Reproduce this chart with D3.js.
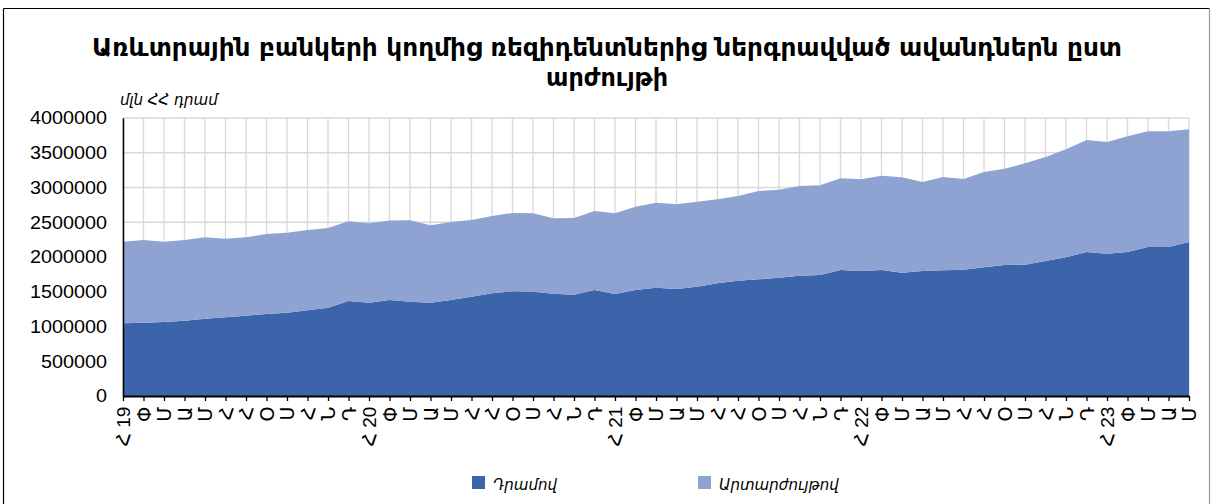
<!DOCTYPE html>
<html lang="hy">
<head>
  <meta charset="UTF-8" />
  <title>Ավանդներն ըստ արժույթի</title>
  <script src="https://d3js.org/d3.v7.min.js"></script>
  <style>
    body {
      margin: 0;
      background: white;
      font-family: "Liberation Sans", "DejaVu Sans", sans-serif;
    }
    svg {
      display: block;
    }
    .grid line {
      stroke: #d9d9d9;
      stroke-width: 1.3px;
    }
    .title {
      font-family: "DejaVu Sans Condensed", "DejaVu Sans", sans-serif;
      font-weight: bold;
      font-size: 25px;
      fill: #000;
    }
    .ylab {
      font-family: "Liberation Sans", "DejaVu Sans", sans-serif;
      font-size: 18px;
      fill: #000;
    }
    .xlab {
      font-family: "Liberation Sans", "DejaVu Sans", sans-serif;
      font-size: 19px;
      fill: #000;
    }
    .unit, .legend text {
      font-family: "DejaVu Sans", sans-serif;
      font-style: italic;
      font-size: 15px;
      fill: #000;
    }
  </style>
</head>
<body>
  <svg width="1211" height="504"></svg>

  <script>
    // month abbreviations (Armenian), year marks on January
    const monthAbbr = ["Հ", "Փ", "Մ", "Ա", "Մ", "Հ", "Հ", "Օ", "Ս", "Հ", "Ն", "Դ"];
    const years = ["19", "20", "21", "22", "23"];
    const yTicks = [0, 500000, 1000000, 1500000, 2000000, 2500000, 3000000, 3500000, 4000000];

    // deposits in drams, mln AMD (Jan 2019 - May 2023)
    const dramValues = [
      1046000, 1055000, 1065000, 1084000, 1113000, 1132000, 1156000, 1180000, 1199000, 1233000, 1271000, 1367000,
      1343000, 1381000, 1357000, 1343000, 1381000, 1429000, 1477000, 1506000, 1501000, 1472000, 1458000, 1525000,
      1468000, 1525000, 1559000, 1540000, 1573000, 1621000, 1659000, 1679000, 1702000, 1731000, 1741000, 1813000,
      1799000, 1813000, 1774000, 1798000, 1808000, 1818000, 1851000, 1885000, 1890000, 1942000, 1995000, 2072000,
      2048000, 2072000, 2144000, 2144000, 2216000
    ];

    // deposits in foreign currency, mln AMD
    const fxValues = [
      1174000, 1189000, 1155000, 1160000, 1170000, 1131000, 1127000, 1151000, 1151000, 1155000, 1146000, 1146000,
      1141000, 1144000, 1171000, 1113000, 1122000, 1103000, 1113000, 1127000, 1127000, 1084000, 1103000, 1137000,
      1160000, 1199000, 1223000, 1218000, 1223000, 1209000, 1219000, 1271000, 1266000, 1290000, 1290000, 1319000,
      1319000, 1357000, 1372000, 1282000, 1343000, 1304000, 1372000, 1386000, 1458000, 1497000, 1554000, 1611000,
      1607000, 1664000, 1664000, 1664000, 1621000
    ];

    const seriesNames = ["Դրամով", "Արտարժույթով"];
    const colors = ["#3b64ab", "#8fa3d3"];

    const labels = dramValues.map((d, i) =>
      i % 12 === 0 ? `Հ ${years[i / 12]}` : monthAbbr[i % 12]);

    const table = dramValues.map((d, i) => ({ idx: i, dram: d, fx: fxValues[i] }));

    const svg = d3.select("svg");
    const margin = { left: 123, right: 1189, top: 118, bottom: 396 };

    // outer frame
    svg.append("line").attr("x1", 3.5).attr("x2", 3.5).attr("y1", 8.5).attr("y2", 504)
      .attr("stroke", "#000").attr("stroke-width", 1.2);
    svg.append("line").attr("x1", 3.5).attr("x2", 1209.5).attr("y1", 8.5).attr("y2", 8.5)
      .attr("stroke", "#000").attr("stroke-width", 1.2);
    svg.append("line").attr("x1", 1209.5).attr("x2", 1209.5).attr("y1", 8.5).attr("y2", 504)
      .attr("stroke", "#9a9a9a").attr("stroke-width", 1.2);

    const x = d3.scalePoint()
      .domain(d3.range(labels.length))
      .range([margin.left, margin.right]);

    const y = d3.scaleLinear()
      .domain([0, 4000000])
      .range([margin.bottom, margin.top]);

    // gridlines
    const grid = svg.append("g").attr("class", "grid");
    grid.selectAll(".h").data(yTicks).join("line")
      .attr("class", "h")
      .attr("x1", margin.left).attr("x2", margin.right)
      .attr("y1", d => y(d)).attr("y2", d => y(d));
    grid.selectAll(".v").data(d3.range(labels.length)).join("line")
      .attr("class", "v")
      .attr("x1", d => x(d)).attr("x2", d => x(d))
      .attr("y1", margin.top).attr("y2", margin.bottom);

    // stacked areas
    const stack = d3.stack().keys(["dram", "fx"]);
    const layers = stack(table);

    const area = d3.area()
      .x(d => x(d.data.idx))
      .y0(d => y(d[0]))
      .y1(d => y(d[1]));

    svg.append("g").selectAll("path")
      .data(layers)
      .join("path")
      .attr("d", area)
      .attr("fill", (d, i) => colors[i]);

    // y axis
    const yAxis = svg.append("g")
      .attr("transform", `translate(${margin.left},0)`)
      .call(d3.axisLeft(y).tickValues(yTicks).tickFormat(d3.format("d")).tickSize(0).tickPadding(16));
    yAxis.select(".domain").attr("stroke", "#000").attr("stroke-width", 1.5);
    yAxis.selectAll("text")
      .attr("class", "ylab")
      .attr("font-family", null).attr("font-size", null)
      .attr("textLength", d => String(d).length * 11)
      .attr("lengthAdjust", "spacingAndGlyphs");

    // x axis
    const xAxis = svg.append("g")
      .attr("transform", `translate(0,${margin.bottom})`)
      .call(d3.axisBottom(x).tickFormat(i => labels[i]).tickSize(5).tickSizeOuter(0));
    xAxis.select(".domain").attr("stroke", "#000").attr("stroke-width", 2);
    xAxis.selectAll(".tick line").attr("stroke", "#000").attr("stroke-width", 1.3);
    xAxis.selectAll("text")
      .attr("class", "xlab")
      .attr("font-family", null).attr("font-size", null)
      .attr("transform", "rotate(-90)")
      .attr("text-anchor", "end")
      .attr("dx", "-0.4em")
      .attr("dy", "0.35em")
      .attr("y", 0)
      .attr("x", -3);

    // title, two lines, fitted to the reference width
    svg.append("text").attr("class", "title")
      .attr("x", 607).attr("y", 56).attr("text-anchor", "middle")
      .attr("textLength", 1030).attr("lengthAdjust", "spacingAndGlyphs")
      .text("Առևտրային բանկերի կողմից ռեզիդենտներից ներգրավված ավանդներն ըստ");
    svg.append("text").attr("class", "title")
      .attr("x", 607).attr("y", 86).attr("text-anchor", "middle")
      .attr("textLength", 122).attr("lengthAdjust", "spacingAndGlyphs")
      .text("արժույթի");

    svg.append("text").attr("class", "unit")
      .attr("x", 120).attr("y", 105)
      .text("մլն ՀՀ դրամ");

    // legend
    const legendX = [472, 698];
    const legend = svg.append("g").attr("class", "legend");
    seriesNames.forEach((name, i) => {
      legend.append("rect")
        .attr("x", legendX[i]).attr("y", 476)
        .attr("width", 13).attr("height", 13)
        .attr("fill", colors[i]);
      legend.append("text")
        .attr("x", legendX[i] + 21).attr("y", 490)
        .text(name);
    });
  </script>
</body>
</html>
